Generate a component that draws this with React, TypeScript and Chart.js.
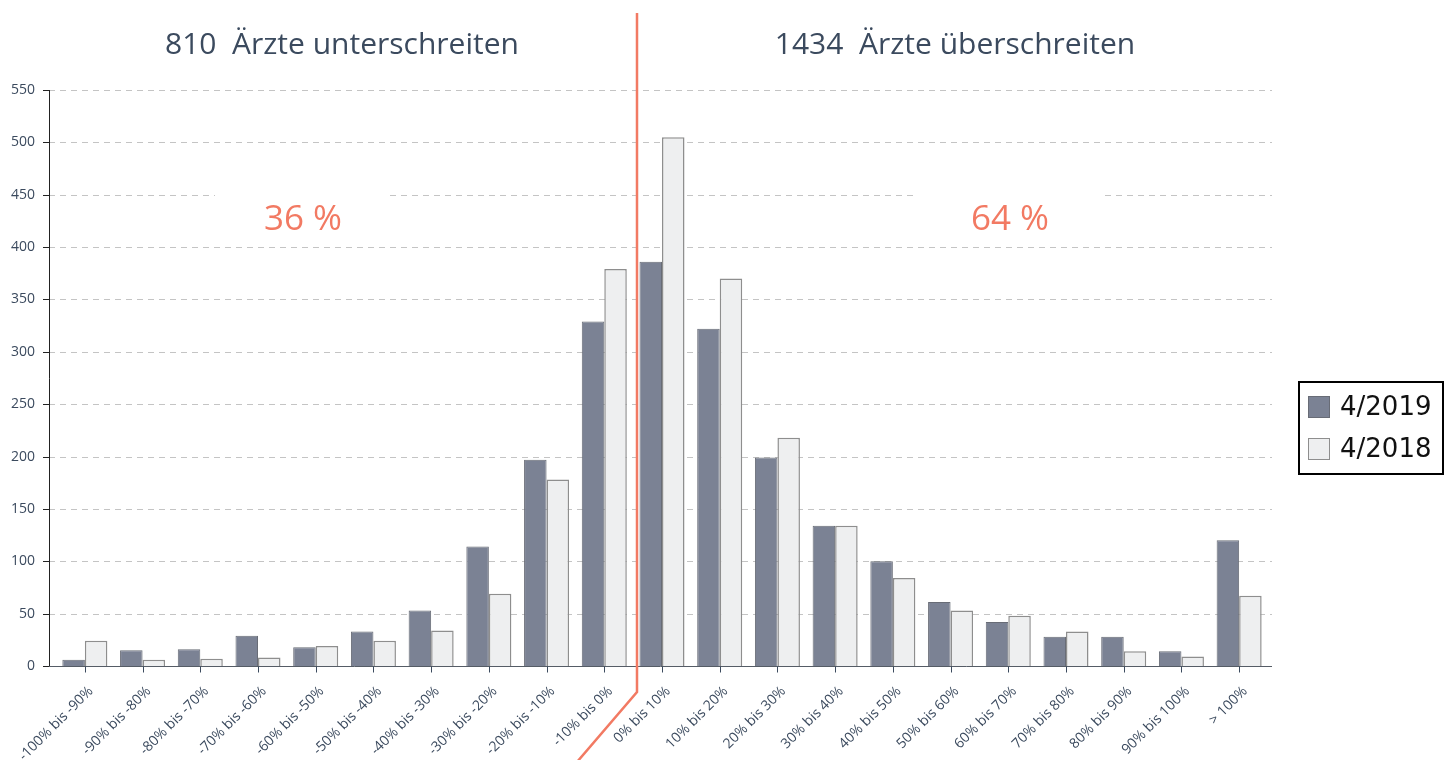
import React, { useEffect, useRef } from "react";
import { Chart, registerables } from "chart.js";

Chart.register(...registerables);

const categories = [
  "-100% bis -90%", "-90% bis -80%", "-80% bis -70%", "-70% bis -60%", "-60% bis -50%",
  "-50% bis -40%", "-40% bis -30%", "-30% bis -20%", "-20% bis -10%", "-10% bis 0%",
  "0% bis 10%", "10% bis 20%", "20% bis 30%", "30% bis 40%", "40% bis 50%",
  "50% bis 60%", "60% bis 70%", "70% bis 80%", "80% bis 90%", "90% bis 100%", "> 100%",
];
const values2019 = [6, 15, 16, 29, 18, 33, 53, 114, 197, 329, 386, 322, 199, 134, 100, 61, 42, 28, 28, 14, 120];
const values2018 = [24, 6, 7, 8, 19, 24, 34, 69, 178, 379, 505, 370, 218, 134, 84, 53, 48, 33, 14, 9, 67];
const seriesLabels = ["4/2019", "4/2018"];
const leftTitle = "810  Ärzte unterschreiten";
const rightTitle = "1434  Ärzte überschreiten";
const leftPct = "36 %";
const rightPct = "64 %";
const yMax = 550;
const yStep = 50;

const TEXT = "#3b4a5e";
const RED = "#f27a63";

const decor = {
  id: "decor",
  beforeDatasetsDraw(chart: any) {
    const { ctx, scales } = chart;
    const y = scales.y;
    const x = scales.x;
    const left = 49;
    const right = 1272;
    ctx.save();
    ctx.strokeStyle = "#c4c4c4";
    ctx.lineWidth = 1;
    ctx.setLineDash([6, 5]);
    for (let v = yStep; v <= yMax; v += yStep) {
      const py = Math.round(y.getPixelForValue(v)) + 0.5;
      ctx.beginPath();
      ctx.moveTo(left, py);
      ctx.lineTo(right, py);
      ctx.stroke();
    }
    ctx.setLineDash([]);
    ctx.fillStyle = "#ffffff";
    const p450 = y.getPixelForValue(450);
    ctx.fillRect(215, p450 - 8, 175, 16);
    ctx.fillRect(916, p450 - 8, 189, 16);
    const y0 = Math.round(y.getPixelForValue(0)) + 0.5;
    ctx.strokeStyle = "#222";
    ctx.lineWidth = 1;
    ctx.beginPath();
    ctx.moveTo(left + 0.5, y.getPixelForValue(yMax));
    ctx.lineTo(left + 0.5, y0);
    ctx.stroke();
    for (let v = 0; v <= yMax; v += yStep) {
      const py = Math.round(y.getPixelForValue(v)) + 0.5;
      ctx.beginPath();
      ctx.moveTo(left - 6, py);
      ctx.lineTo(left, py);
      ctx.stroke();
    }
    ctx.strokeStyle = "#555c66";
    ctx.beginPath();
    ctx.moveTo(left, y0);
    ctx.lineTo(right, y0);
    ctx.stroke();
    ctx.strokeStyle = "#3b4a5e";
    for (let i = 0; i < categories.length; i++) {
      const px = Math.round(x.getPixelForValue(i)) + 0.5;
      ctx.beginPath();
      ctx.moveTo(px, y0);
      ctx.lineTo(px, y0 + 6);
      ctx.stroke();
    }
    ctx.restore();
  },
  afterDatasetsDraw(chart: any) {
    const { ctx, scales } = chart;
    const x = scales.x;
    ctx.save();
    const sx = x.getPixelForValue(10) - 25;
    ctx.strokeStyle = RED;
    ctx.lineWidth = 2.5;
    ctx.beginPath();
    ctx.moveTo(sx, 13);
    ctx.lineTo(sx, 692);
    ctx.lineTo(sx - 60, 762);
    ctx.stroke();
    ctx.fillStyle = TEXT;
    ctx.font = '30px "Open Sans"';
    ctx.textAlign = "center";
    ctx.textBaseline = "middle";
    ctx.fillText(leftTitle, 342, 45);
    ctx.fillText(rightTitle, 955, 45);
    ctx.fillStyle = RED;
    ctx.font = '35px "Open Sans"';
    ctx.fillText(leftPct, 303, 220);
    ctx.fillText(rightPct, 1010, 220);
    ctx.strokeStyle = "#000";
    ctx.lineWidth = 2;
    ctx.strokeRect(1299, 382, 144, 92);
    const ds = chart.data.datasets;
    const rows = [407, 449];
    ctx.font = '26px "DejaVu Sans"';
    ctx.textAlign = "left";
    for (let i = 0; i < ds.length; i++) {
      ctx.fillStyle = ds[i].backgroundColor;
      ctx.fillRect(1308, rows[i] - 11, 22, 22);
      ctx.strokeStyle = ds[i].borderColor;
      ctx.lineWidth = 1;
      ctx.strokeRect(1308.5, rows[i] - 10.5, 21, 21);
      ctx.fillStyle = "#111";
      ctx.fillText(ds[i].label, 1340, rows[i] + 1);
    }
    ctx.restore();
  },
};

export default function App() {
  const ref = useRef<HTMLCanvasElement | null>(null);
  useEffect(() => {
    if (!ref.current) return;
    const chart = new Chart(ref.current, {
      type: "bar",
      data: {
        labels: categories,
        datasets: [
          {
            label: seriesLabels[0],
            data: values2019,
            backgroundColor: "#7b8294",
            borderColor: "#686c76",
            borderWidth: 1,
            categoryPercentage: 0.78,
            barPercentage: 1,
          },
          {
            label: seriesLabels[1],
            data: values2018,
            backgroundColor: "#eeeff0",
            borderColor: "#8e8e8e",
            borderWidth: 1.5,
            categoryPercentage: 0.78,
            barPercentage: 1,
          },
        ],
      },
      options: {
        animation: false,
        responsive: false,
        layout: { padding: { top: 90, right: 179, left: 0, bottom: 0 } },
        plugins: { legend: { display: false }, tooltip: { enabled: false }, title: { display: false } },
        scales: {
          x: {
            grid: { display: false, drawTicks: false },
            border: { display: false },
            ticks: {
              autoSkip: false,
              maxRotation: 45,
              minRotation: 45,
              padding: 17,
              labelOffset: 6,
              color: TEXT,
              font: { family: '"Open Sans"', size: 14 },
            },
            afterFit: (s: any) => {
              s.height = 94;
              s.paddingLeft = 0;
              s.paddingRight = 0;
            },
          },
          y: {
            min: 0,
            max: yMax,
            grid: { display: false, drawTicks: false },
            border: { display: false },
            ticks: {
              stepSize: yStep,
              padding: 21,
              color: TEXT,
              font: { family: '"Open Sans"', size: 14 },
            },
            afterFit: (s: any) => { s.width = 56; },
          },
        },
      },
      plugins: [decor],
    });
    return () => chart.destroy();
  }, []);
  return (
    <div style={{ position: "fixed", left: 0, top: 0, width: 1447, height: 760, background: "#fff" }}>
      <canvas ref={ref} width={1447} height={760} style={{ width: 1447, height: 760, display: "block" }} />
    </div>
  );
}
